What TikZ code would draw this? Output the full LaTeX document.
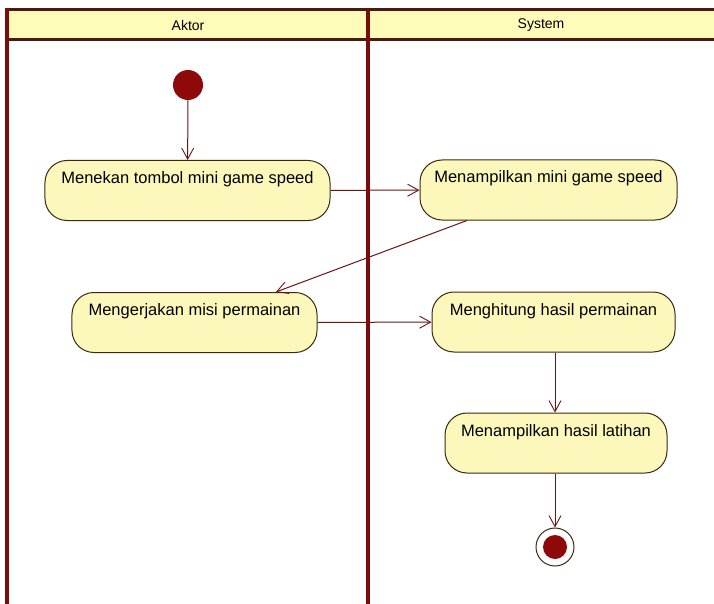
\documentclass[tikz,border=0pt]{standalone}
\usepackage{fontspec}
\setmainfont{Liberation Sans}
\usetikzlibrary{arrows.meta}
\definecolor{laneline}{HTML}{7A0C0C}
\definecolor{headline}{HTML}{4A1A10}
\definecolor{headfill}{HTML}{FFFBB8}
\definecolor{actfill}{HTML}{FCF8BC}
\definecolor{actline}{HTML}{3A2A12}
\definecolor{flow}{HTML}{6A1414}
\definecolor{dot}{HTML}{8E0A0A}
\tikzset{
  activity/.style={draw=actline, line width=1bp, fill=actfill, rectangle,
    rounded corners=22bp, inner xsep=4bp, inner ysep=6bp,
    text height=17bp, text depth=31bp,
    font=\fontsize{16.5bp}{19bp}\selectfont},
  flowarrow/.style={draw=flow, line width=1bp,
    -{Straight Barb[length=11bp,width=12bp,line width=0.9bp]}},
  lanelabel/.style={font=\fontsize{14bp}{16bp}\selectfont},
}
\begin{document}
\begin{tikzpicture}[x=1bp, y=-1bp]
\useasboundingbox (0,0) rectangle (714,604);
\fill[white] (0,0) rectangle (714,604);
% swimlane header band
\fill[headfill] (7,10) rectangle (714,40);
\draw[headline, line width=3bp] (7,10) -- (714,10);
\draw[headline, line width=3bp] (7,40) -- (714,40);
\draw[laneline, line width=3.2bp] (7,8.5) -- (7,604);
\draw[laneline, line width=3.2bp] (368,10) -- (368,604);
\node[lanelabel] (hA) at (188,25) {Aktor};
\node[lanelabel] (hS) at (541,25) {System};
% start and end markers
\node[circle, fill=dot, minimum size=30bp, inner sep=0] (start) at (188,85) {};
\node[circle, draw=actline, line width=1bp, minimum size=38bp, inner sep=0] (stop) at (555,547) {};
\node[circle, fill=dot, minimum size=24bp, inner sep=0] (stopdot) at (555,547) {};
% activities
\node[activity, minimum width=285bp] (a1) at (187.5,190.5) {Menekan tombol mini game speed};
\node[activity, minimum width=257bp] (a2) at (548.5,190) {Menampilkan mini game speed};
\node[activity, minimum width=245bp] (a3) at (194.5,322.5) {Mengerjakan misi permainan};
\node[activity, minimum width=243bp] (a4) at (553.5,322) {Menghitung hasil permainan};
\node[activity, minimum width=222bp] (a5) at (556,443) {Menampilkan hasil latihan};
% control flow
\draw[flowarrow] (start) -- (a1);
\draw[flowarrow] (a1) -- (a2);
\draw[flowarrow] (a2) -- (a3);
\draw[flowarrow] (a3) -- (a4);
\draw[flowarrow] (a4.south -| stop) -- (a5.north -| stop);
\draw[flowarrow] (a5.south -| stop) -- (stop);
\end{tikzpicture}
\end{document}
